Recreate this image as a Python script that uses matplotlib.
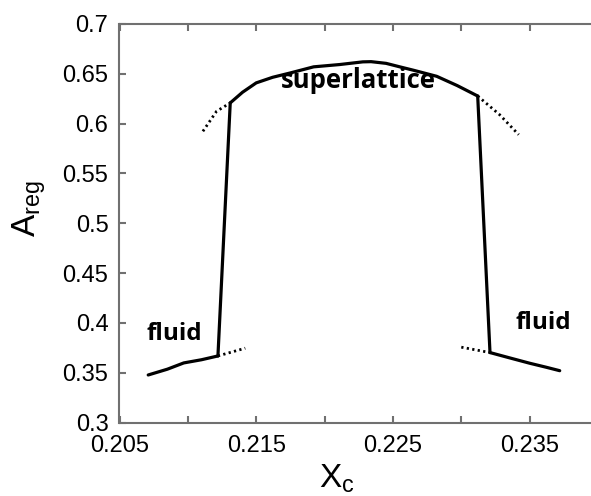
import matplotlib
matplotlib.use("Agg")
import matplotlib.pyplot as plt

plt.rcParams['font.family'] = ['Liberation Sans', 'DejaVu Sans']
plt.rcParams['mathtext.default'] = 'regular'

# superlattice branch
sl_x = [0.2131, 0.2140, 0.2150, 0.2162, 0.2175, 0.2192, 0.2211, 0.2228, 0.2234, 0.2245, 0.2255, 0.2265, 0.2282, 0.2297, 0.2312]
sl_y = [0.6208, 0.6315, 0.6409, 0.6465, 0.6509, 0.6570, 0.6593, 0.6620, 0.6622, 0.6605, 0.6570, 0.6536, 0.6475, 0.6382, 0.6277]
# fluid branches
fl_left_x = [0.2071, 0.2085, 0.2097, 0.2110, 0.2122]
fl_left_y = [0.3477, 0.3535, 0.3598, 0.3630, 0.3668]
fl_right_x = [0.2321, 0.2335, 0.2350, 0.2362, 0.2372]
fl_right_y = [0.3702, 0.3650, 0.3595, 0.3555, 0.3520]
# jumps
jump_left_x = [0.2131, 0.2122]
jump_left_y = [0.6208, 0.3668]
jump_right_x = [0.2312, 0.2321]
jump_right_y = [0.6277, 0.3702]
# metastable (dotted)
ms_sl_left_x = [0.2111, 0.2121, 0.2131]
ms_sl_left_y = [0.5923, 0.6124, 0.6208]
ms_sl_right_x = [0.2312, 0.2328, 0.2342]
ms_sl_right_y = [0.6277, 0.6090, 0.5889]
ms_fl_left_x = [0.2122, 0.2142]
ms_fl_left_y = [0.3668, 0.3746]
ms_fl_right_x = [0.2300, 0.2321]
ms_fl_right_y = [0.3756, 0.3702]

xticks = [0.205, 0.21, 0.215, 0.22, 0.225, 0.23, 0.235, 0.24]
xticklabels = ['0.205', '', '0.215', '', '0.225', '', '0.235', '']
yticks = [0.3, 0.35, 0.4, 0.45, 0.5, 0.55, 0.6, 0.65, 0.7]
yticklabels = ['0.3', '0.35', '0.4', '0.45', '0.5', '0.55', '0.6', '0.65', '0.7']

fig = plt.figure(figsize=(5.91, 4.96), dpi=100)
ax = fig.add_axes([119.5/591, (496-422.5)/496, (598-119.5)/591, (422.5-24)/496])

for xs, ys in [(sl_x, sl_y), (fl_left_x, fl_left_y), (fl_right_x, fl_right_y),
               (jump_left_x, jump_left_y), (jump_right_x, jump_right_y)]:
    ax.plot(xs, ys, color='black', lw=2.3, solid_capstyle='round', solid_joinstyle='round')
for xs, ys in [(ms_sl_left_x, ms_sl_left_y), (ms_sl_right_x, ms_sl_right_y),
               (ms_fl_left_x, ms_fl_left_y), (ms_fl_right_x, ms_fl_right_y)]:
    ax.plot(xs, ys, color='black', lw=2.0, linestyle=(0, (0.8, 1.2)))

ax.text(0.2225, 0.6432, 'superlattice', ha='center', va='center',
        fontsize=18.5, fontweight='bold', family='Open Sans')
ax.text(0.2090, 0.3889, 'fluid', ha='center', va='center',
        fontsize=17.5, fontweight='bold', family='Open Sans')
ax.text(0.2360, 0.4000, 'fluid', ha='center', va='center',
        fontsize=17.5, fontweight='bold', family='Open Sans')

ax.set_xlim(0.205, 0.24)
ax.set_ylim(0.3, 0.7)
ax.set_xticks(xticks)
ax.set_xticklabels(xticklabels)
ax.set_yticks(yticks)
ax.set_yticklabels(yticklabels)
ax.tick_params(direction='in', length=5, width=1.5, color='#707070',
               labelsize=17, top=True, right=True)
ax.tick_params(axis='y', pad=8)
ax.tick_params(axis='x', pad=9)
for s in ax.spines.values():
    s.set_color('#707070')
    s.set_linewidth(1.5)

ax.set_xlabel('X$_c$', fontsize=24)
ax.xaxis.set_label_coords(0.455, -0.10)
ax.set_ylabel('A$_{reg}$', fontsize=24)
ax.yaxis.set_label_coords(-0.15, 0.536)

fig.savefig('out.png', dpi=100)
